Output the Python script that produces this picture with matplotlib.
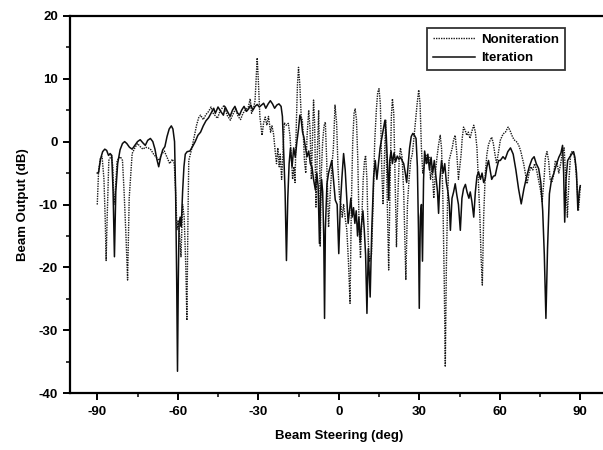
import matplotlib
matplotlib.use("Agg")
import matplotlib.pyplot as plt
from matplotlib.ticker import MultipleLocator

plt.rcParams['font.family'] = ['Liberation Sans', 'DejaVu Sans']
plt.rcParams['axes.unicode_minus'] = False

# Iteration (solid)
iter_x = [-90, -89.5, -88.8, -88, -87.2, -86.5, -85.8, -85.2, -84.6, -84.1, -83.6, -83.1, -82.4, -81.5, -80.6,
          -79.8, -79, -78, -77, -76, -75, -74, -73, -72.1, -71.2, -70.2, -69.3, -68.5, -67.8, -67.1, -66.4,
          -65.6, -64.8, -64, -63.2, -62.4, -61.8, -61.2, -60.8, -60.4, -60.1, -59.8, -59.5, -59.1, -58.7,
          -58.2, -57.7, -57.2, -56.5, -55.5, -54.5, -53.5, -52.5, -51.5, -50.5, -49.5, -48.5, -47.6, -46.6,
          -46, -45, -44, -43, -42.3, -41.5, -40.5, -39.6, -38.7, -37.8, -37, -36.2, -35.3, -34.4, -33.6,
          -32.8, -32, -31.2, -30.4, -29.6, -28.8, -28, -27.2, -26.3, -25.5, -24.7, -23.9, -23.1, -22.3,
          -21.5, -21, -20.5, -20, -19.5, -19, -18.5, -18, -17.4, -16.8, -16.2, -15.6, -15, -14.5, -14,
          -13.5, -13, -12.4, -11.8, -11.2, -10.6, -10, -9.4, -8.7, -8.2, -7.7, -7.2, -6.8, -6.4, -6, -5.6,
          -5.3, -5, -4.4, -3.8, -3.2, -2.6, -2, -1.3, -0.6, 0, 0.6, 1.2, 1.8, 2.4, 3, 3.5, 4, 4.5, 5, 5.5,
          6, 6.5, 7, 7.5, 8, 8.5, 9, 9.5, 10, 10.5, 11, 11.7, 12.3, 13, 13.6, 14.2, 14.8, 15.4, 16, 16.6,
          17.2, 17.7, 18.2, 18.6, 19, 19.5, 20, 20.6, 21.2, 21.8, 22.4, 23, 23.6, 24.2, 24.8, 25.3, 25.8,
          26.4, 27, 27.6, 28.2, 28.8, 29.3, 29.7, 30.0, 30.4, 30.8, 31.2, 31.6, 32, 32.6, 33.2, 33.8, 34.4,
          35, 35.6, 36.2, 36.8, 37.2, 37.7, 38.3, 38.9, 39.5, 40.1, 40.7, 41.2, 41.6, 42.2, 42.8, 43.4, 44,
          44.6, 45.3, 45.9, 46.5, 47.2, 47.8, 48.5, 49, 49.6, 50.3, 50.9, 51.5, 52.1, 52.8, 53.4, 54, 54.6,
          55.2, 55.8, 56.4, 57, 57.6, 58.3, 59, 59.6, 60.2, 61.2, 62, 63, 64, 65, 66, 67, 68, 69, 70, 71,
          72, 72.8, 73.6, 74.5, 75.3, 76, 76.6, 77.2, 77.8, 78.5, 79.3, 80.1, 81, 82, 82.8, 83.4, 83.8,
          84.2, 84.7, 85.3, 86, 86.8, 87.5, 88, 88.6, 89.1, 89.6, 90]
iter_y = [-5.0, -4.9, -2.8, -1.6, -1.2, -1.4, -2.2, -1.9, -2.2, -8, -18.3, -8, -3.5, -1.3, -0.3,
          0.0, -0.3, -0.9, -1.2, -0.6, 0.0, 0.3, -0.2, -0.6, 0.2, 0.5, 0.0, -1.2, -2.8, -4.0, -2.5,
          -1.3, -0.8, 0.8, 2.0, 2.5, 2.0, 0, -8, -22, -36.5, -22, -13, -12, -13.5,
          -8, -4, -2.0, -1.6, -1.5, -0.8, 0.0, 1.0, 1.5, 2.5, 3.3, 3.8, 4.5, 5.3,
          4.5, 5.5, 4.8, 4.2, 5.5, 4.8, 4.0, 5.0, 5.6, 4.6, 4.2, 5.0, 5.6, 4.8, 5.2,
          5.8, 5.0, 5.6, 5.9, 5.5, 5.8, 6.1, 5.3, 6.0, 6.5, 6.0, 5.3, 5.8, 6.0,
          5.6, 4, -2, -8, -18.9, -9, -3.5, -1.0, -4, -1, -2.5, 0, 2, 4.2, 3.5,
          1.5, 0.7, -1, -2.4, -1.5, -3.5, -4, -6, -7.7, -5, -7, -16.2, -9, -6, -8, -15,
          -28.1, -14, -6.7, -5, -4.0, -3, -6, -9.3, -10, -17.8, -10, -5.6, -1.9, -4.5, -9, -13, -11, -9, -12, -10.5,
          -13, -11, -15, -12, -16, -13, -11, -14, -18, -27.3, -17, -24.7, -14, -5.6, -3, -6, -3.5, -1.0, 0.5, 2.0,
          3.4, 1, -4, -9.3, -3, -1.5, -3.5, -1.8, -3.2, -2.3, -2.8, -2.5, -3.0, -3.5, -5, -6.5, -4,
          -1, 0.8, 1.3, 1.0, 0.5, -4, -14, -26.5, -12, -10, -19, -6, -1.5, -3.5, -2, -4.5, -2.5,
          -5, -3, -5.5, -8, -11.4, -6, -3, -5, -3.5, -6.5, -8, -10, -14.1, -9, -8, -6.7, -8.5,
          -10, -14.1, -9, -7.5, -6.8, -8, -9, -8, -9.5, -12, -8, -5.5, -4.8, -6, -5, -6.5, -5.9,
          -4, -3, -4.5, -6, -5.5, -5.4, -4, -3.0, -3.0, -2.4, -2.8, -1.6, -1.0, -2.0, -4.5, -7.5, -9.9, -7.5, -5.6, -4.0,
          -2.8, -2.4, -3.5, -4.3, -6.5, -11, -18, -28.1, -17, -8.3, -6, -5.1, -3.8, -2.5, -1.8, -0.6, -5,
          -12.8, -6, -3, -2.5, -2, -1.6, -2.5, -5, -10.9, -8, -7]

# Noniteration (dotted)
noniter_x = [-90, -89.5, -88.8, -88.2, -87.5, -87.0, -86.7, -86.3, -85.7, -84.7, -84.2, -83.8, -83.3, -82.6,
             -81.4, -80.6, -80.0, -79.3, -78.7, -78.1, -77, -76, -75, -74, -73, -72, -71, -70, -69, -68,
             -67, -66, -65, -64, -63, -62, -61.3, -60.8, -60.3, -59.8, -59.3, -58.8, -58.2, -57.6, -57,
             -56.6, -56.2, -55.9, -55, -54, -53, -52.2, -51.5, -50.5, -49.5, -48.5, -47.6, -46.8, -46.2,
             -45.2, -44.3, -43.5, -42.7, -41.6, -40.4, -39.5, -38.4, -37.5, -36.6, -35.7, -34.8, -33.7,
             -33.0, -32.5, -31.8, -31.2, -30.8, -30.4, -30.0, -29.4, -28.6, -28, -27.4, -26.8, -26.2,
             -25.4, -24.9, -24.3, -23.7, -23.2, -22.7, -22.2, -21.8, -21.3, -20.8, -20.3, -19.6, -18.8,
             -18.2, -17.6, -17.2, -16.7, -16.3, -15.8, -15.4, -15.0, -14.5, -14, -13.6, -13.2, -12.8,
             -12.3, -11.8, -11.2, -10.7, -10.2, -9.8, -9.4, -9.0, -8.5, -8.0, -7.5, -7.1, -6.9, -6.5,
             -6, -5.5, -5.0, -4.5, -3.8, -3.2, -2.5, -2, -1.4, -0.8, -0.3, 0.3, 0.8, 1.3, 1.8, 2.5, 3,
             3.6, 4.2, 4.7, 5.2, 5.7, 6.1, 6.6, 7.1, 7.6, 8.1, 8.6, 9.1, 9.6, 10, 10.5, 11, 11.5, 12.2,
             12.8, 13.4, 14, 14.5, 15, 15.5, 16, 16.5, 17, 17.5, 18, 18.6, 19.2, 19.6, 20, 20.5, 21,
             21.5, 22, 22.5, 23, 23.6, 24.2, 25, 25.6, 26.2, 26.8, 27.4, 28, 28.5, 29.2, 29.8, 30.3,
             30.8, 31.3, 31.8, 32.4, 33, 33.6, 34.2, 34.8, 35.4, 36, 36.6, 37.2, 37.8, 38.3, 38.8, 39.3,
             39.7, 40.1, 40.6, 41.1, 41.7, 42.3, 42.8, 43.4, 44, 44.6, 45.1, 45.6, 46, 46.5, 47.1, 47.7,
             48.3, 48.9, 49.5, 50.3, 50.9, 51.5, 52, 52.6, 53, 53.5, 54, 54.6, 55.2, 55.8, 56.4, 57,
             57.6, 58.2, 58.8, 59.4, 60.2, 61.2, 62.1, 63.1, 63.8, 64.5, 65.3, 66.2, 67, 67.8, 68.3,
             68.9, 69.5, 70.2, 70.9, 71.6, 72.3, 73, 73.7, 74.4, 75.1, 75.8, 76.5, 77.0, 77.6, 78.2,
             78.8, 79.4, 80, 80.7, 81.4, 82, 82.7, 83.4, 84, 84.6, 85.2, 85.8, 86.4, 87, 87.6, 88.2,
             88.8, 89.3, 89.7, 90]
noniter_y = [-10.0, -4.6, -2.6, -2.4, -6, -13, -18.9, -12, -3.0, -2.2, -4, -10, -8, -3,
             -2.4, -3, -8, -15, -22.0, -9, -1.9, -1.0, -0.3, -0.8, -1.2, -0.9, -1.0, -1.3, -2.0, -2.5,
             -3.0, -2.0, -1.5, -2.5, -3.5, -2.8, -3.5, -8, -14, -12.5, -15, -18.3, -10, -12, -20,
             -28.4, -12, -3.0, -1.5, 0.5, 2.6, 3.8, 4.2, 3.5, 4.3, 4.8, 5.5, 4.5, 4.2,
             3.7, 4.8, 5.3, 5.8, 4.2, 3.4, 4.3, 5.2, 4.0, 3.5, 4.5, 5.0, 5.5,
             6.8, 4.5, 5.2, 6.5, 10, 13.3, 10, 4, 1.0, 3, 3.9, 2.6, 4.0,
             1.5, 2.5, 1.2, -1.5, -3.5, -1, -4, -2, -6, -2, 3.0, 2.6, 2.9,
             1.0, -3, -6, -4, -6.5, 3, 9, 11.8, 9, 4, 3.4, 1, -3,
             -5, 1, 5.0, 2, -6, 0, 6.6, 3, -10.4, -2, 5.0, -3, -16.7, -5,
             0, 2.5, 3.1, -3, -13.6, -8.3, -3.5, -1, 5.8, 3, -4, -9, -10, -12, -10, -12.5, -14,
             -19, -25.7, -10, 0, 4.5, 5.2, 3.5, -3, -14, -18.5, -12, -6, -3, -2.2, -6, -16, -19, -18,
             -10, 0, 5, 7.8, 8.4, 6, -4, -10, -3, 3.4, -8, -20.4, -5, 4, 6.8, 4.5, -6,
             -16.7, -9, -3, -1, -2.5, -8, -22.0, -10, -6, -3, -2, 0.5, 2.8, 6, 8.2, 6,
             -1, -5, -4, -2, -3.5, -2.5, -6, -4, -9, -5, -2.5, -0.5, 1.0, -1, -9, -22,
             -35.8, -20, -8, -3, -2, -1, 0.3, 1.0, -2, -6, -4, -2, 0.5, 2.3, 1.8, 1.0,
             1.5, 0.5, 1.5, 2.6, 1.5, -1, -6, -12, -18, -22.8, -12, -5, -2, -0.5, 0.2, 0.7,
             -0.3, -2, -3.5, -2, 0.2, 1.2, 1.5, 2.3, 1.8, 1.0, 0.3, 0.0, -0.5, -1.5, -2.4,
             -3.5, -5, -6.7, -5, -4, -4.5, -3.5, -4.5, -6, -7.5, -9.5, -6, -2.5, -1.6, -3,
             -6, -6.5, -5.5, -3, -3.5, -5, -3.5, -1.5, -1, -6, -12, -6, -2, -1.5, -2, -3.5,
             -7, -11, -9, -7]

x_ticks = [-90, -60, -30, 0, 30, 60, 90]
y_ticks = [-40, -30, -20, -10, 0, 10, 20]

fig = plt.figure(figsize=(6.03, 4.5), dpi=100)
ax = fig.add_axes([0.1168, 0.126, 0.890, 0.839])

ax.plot(noniter_x, noniter_y, color='#1a1a1a', linestyle=(0, (1, 0.8)), linewidth=1.0, label='Noniteration')
ax.plot(iter_x, iter_y, color='#0d0d0d', linestyle='-', linewidth=1.1, label='Iteration')

ax.set_xlim(-100, 100)
ax.set_ylim(-40, 20)
ax.set_xticks(x_ticks)
ax.set_yticks(y_ticks)
ax.xaxis.set_minor_locator(MultipleLocator(15))
ax.yaxis.set_minor_locator(MultipleLocator(5))
ax.tick_params(which='major', direction='out', length=5, width=1.4, labelsize=9.5, pad=4)
ax.tick_params(which='minor', direction='out', length=3, width=1.1)
ax.tick_params(top=False, right=False, which='both')
for lbl in ax.get_xticklabels() + ax.get_yticklabels():
    lbl.set_fontweight('bold')
for s in ax.spines.values():
    s.set_linewidth(1.6)

ax.set_xlabel('Beam Steering (deg)', fontsize=9.5, fontweight='bold', labelpad=9)
ax.set_ylabel('Beam Output (dB)', fontsize=9.5, fontweight='bold', labelpad=7)

leg = ax.legend(loc='upper left', bbox_to_anchor=(0.665, 0.968), frameon=True, fancybox=False,
                prop={'weight': 'bold', 'size': 9.5}, handlelength=3.2, borderpad=0.45,
                labelspacing=0.45, handletextpad=0.4, borderaxespad=0)
leg.get_frame().set_edgecolor('black')
leg.get_frame().set_linewidth(1.3)

fig.savefig('out.png', dpi=100)
